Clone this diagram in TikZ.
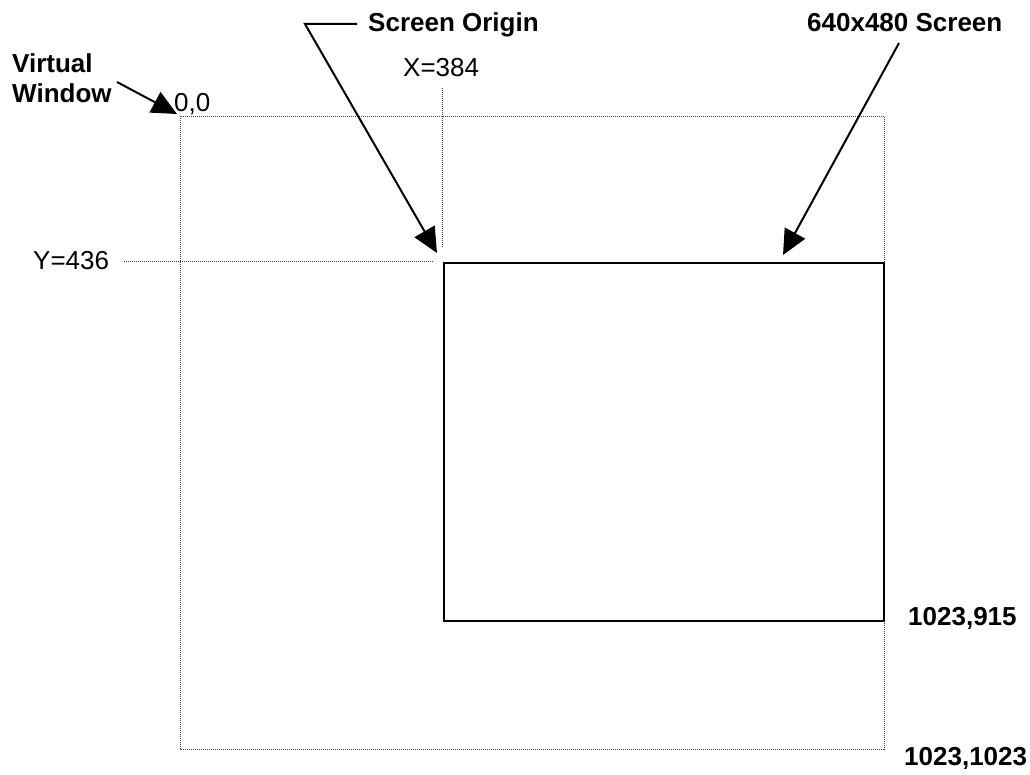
\documentclass[tikz,border=0pt]{standalone}
\usepackage{fontspec}
\setmainfont{Liberation Sans}
\usetikzlibrary{arrows.meta}
\begin{document}
\begin{tikzpicture}[x=1pt,y=-1pt,
  lbl/.style={inner sep=0pt, anchor=base west, font=\fontsize{26}{30}\selectfont},
  blbl/.style={inner sep=0pt, anchor=base west, font=\fontsize{26}{30}\selectfont\bfseries},
  dotline/.style={black!75, line width=0.9pt, dash pattern=on 1pt off 1pt},
  pointer/.style={line width=2pt, -{Triangle[length=25pt,width=23pt]}},
  screenbox/.style={line width=2.5pt}]
\useasboundingbox (0,0) rectangle (1030,775);
% virtual window and screen
\coordinate (vwTL) at (180,116);
\coordinate (vwBR) at (884,749);
\draw[dotline] (vwTL) rectangle (vwBR);
\coordinate (scrTL) at (444,263);
\coordinate (scrBR) at (884,621);
\draw[screenbox] (scrTL) rectangle (scrBR);
% guide lines
\coordinate (xgTop) at (442,88);
\coordinate (xgBot) at (442,247);
\draw[dotline] (xgTop) -- (xgBot);
\coordinate (ygL) at (124,261);
\coordinate (ygR) at (433,261);
\draw[dotline] (ygL) -- (ygR);
% labels
\node[blbl] (vwA) at (12,73) {Virtual};
\node[blbl] (vwB) at (12,103) {Window};
\node[lbl] (orig) at (174,112) {0,0};
\node[blbl] (so) at (368,32) {Screen Origin};
\node[lbl] (xl) at (403,77) {X=384};
\node[blbl] (sl) at (807,32) {640x480 Screen};
\node[lbl] (yl) at (33,270) {Y=436};
\node[blbl] (c1) at (908,625) {1023,915};
\node[blbl] (c2) at (904,765) {1023,1023};
% pointers
\coordinate (vwFrom) at (117,82);
\coordinate (vwTip) at (177,114);
\draw[pointer] (vwFrom) -- (vwTip);
\coordinate (soA) at (357,24);
\coordinate (soB) at (305,24);
\coordinate (soTip) at (437,253);
\draw[pointer] (soA) -- (soB) -- (soTip);
\coordinate (slFrom) at (899,43);
\coordinate (slTip) at (783,255);
\draw[pointer] (slFrom) -- (slTip);
\end{tikzpicture}
\end{document}
